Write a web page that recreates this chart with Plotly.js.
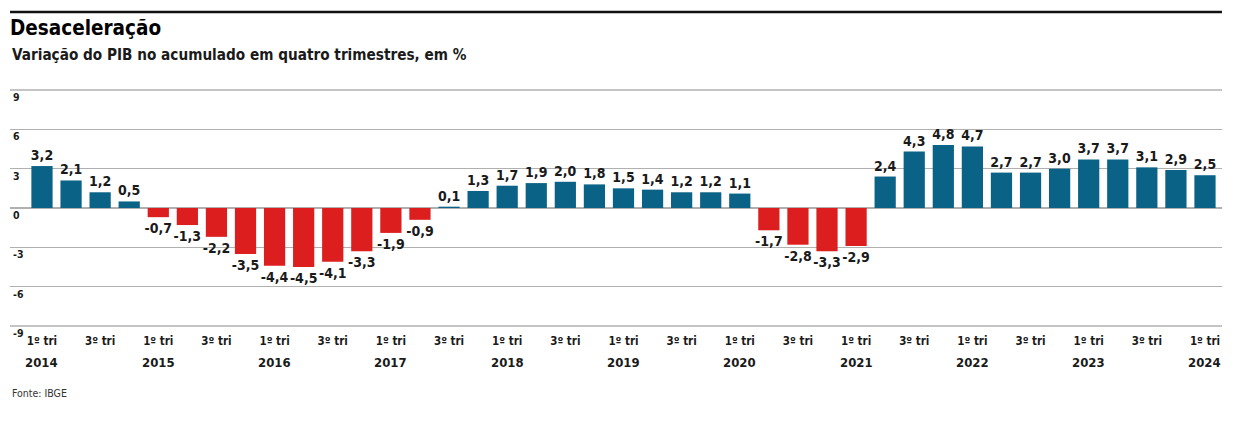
<!DOCTYPE html>
<html>
<head>
<meta charset="utf-8">
<script src="https://cdn.plot.ly/plotly-3.0.1.min.js"></script>
<style>html,body{margin:0;padding:0;background:#fff;}#chart{width:1234px;height:427px;}</style>
</head>
<body>
<div id="chart"></div>
<script>
const quarters = [
  "2014 T1","2014 T2","2014 T3","2014 T4",
  "2015 T1","2015 T2","2015 T3","2015 T4",
  "2016 T1","2016 T2","2016 T3","2016 T4",
  "2017 T1","2017 T2","2017 T3","2017 T4",
  "2018 T1","2018 T2","2018 T3","2018 T4",
  "2019 T1","2019 T2","2019 T3","2019 T4",
  "2020 T1","2020 T2","2020 T3","2020 T4",
  "2021 T1","2021 T2","2021 T3","2021 T4",
  "2022 T1","2022 T2","2022 T3","2022 T4",
  "2023 T1","2023 T2","2023 T3","2023 T4",
  "2024 T1"
];
const pibVariation = [
  3.2, 2.1, 1.2, 0.5,
  -0.7, -1.3, -2.2, -3.5,
  -4.4, -4.5, -4.1, -3.3,
  -1.9, -0.9, 0.1, 1.3,
  1.7, 1.9, 2.0, 1.8,
  1.5, 1.4, 1.2, 1.2,
  1.1, -1.7, -2.8, -3.3,
  -2.9, 2.4, 4.3, 4.8,
  4.7, 2.7, 2.7, 3.0,
  3.7, 3.7, 3.1, 2.9,
  2.5
];
const tickQuarters = quarters.filter((q, i) => i % 2 === 0);
const tickLabels = tickQuarters.map(q => q.endsWith("T1") ? "1º tri" : "3º tri");
const yearQuarters = quarters.filter(q => q.endsWith("T1"));
const yearLabels = yearQuarters.map(q => q.slice(0, 4));
const yTicks = [-9, -6, -3, 0, 3, 6, 9];

const BLUE = "#0a6387";
const RED = "#dc1e1f";
const FONT = "DejaVu Sans Condensed, DejaVu Sans, sans-serif";

const trace = {
  type: "bar",
  x: quarters,
  y: pibVariation,
  marker: {color: pibVariation.map(v => v >= 0 ? BLUE : RED)},
  text: pibVariation.map(v => v.toFixed(1).replace(".", ",")),
  textposition: "outside",
  constraintext: "none",
  cliponaxis: false,
  textfont: {family: FONT, size: 14, color: "#1a1a1a", weight: 700},
  hoverinfo: "skip"
};

const annotations = yearQuarters.map((q, i) => ({
  x: q, xref: "x", y: -0.155, yref: "paper",
  text: "<b>" + yearLabels[i] + "</b>", showarrow: false,
  xanchor: "center", yanchor: "middle",
  font: {family: FONT, size: 13, color: "#1a1a1a"}
}));
annotations.push({
  x: 0, xref: "paper", xanchor: "left",
  y: (326 - 55) / 236, yref: "paper", yanchor: "middle",
  text: "<b>Variação do PIB no acumulado em quatro trimestres, em %</b>",
  showarrow: false, font: {family: FONT, size: 15.2, color: "#1a1a1a"}
});
annotations.push({
  x: 0, xref: "paper", xanchor: "left",
  y: (326 - 393) / 236, yref: "paper", yanchor: "middle",
  text: "Fonte: IBGE", showarrow: false,
  font: {family: FONT, size: 10.5, color: "#333"}
});

const layout = {
  width: 1234, height: 427,
  margin: {l: 10, r: 12, t: 90, b: 101},
  paper_bgcolor: "#fff", plot_bgcolor: "#fff",
  showlegend: false,
  bargap: 0.27,
  title: {
    text: "<b>Desaceleração</b>",
    xref: "container", x: 10 / 1234, xanchor: "left",
    yref: "container", y: 1 - 21 / 427, yanchor: "top",
    font: {family: FONT, size: 20.5, color: "#000"}
  },
  xaxis: {
    type: "category",
    range: [-1.1, 40.585],
    tickvals: tickQuarters,
    ticktext: tickLabels.map(t => "<b>" + t + "</b>"),
    ticks: "", showgrid: false, zeroline: false, showline: false,
    tickfont: {family: FONT, size: 11.5, color: "#1a1a1a"},
    ticklabelstandoff: 6
  },
  yaxis: {
    range: [-9, 9],
    tickvals: yTicks,
    ticktext: yTicks.map(v => "<b>" + v + "</b>"),
    ticklabelposition: "inside bottom",
    ticklabeloverflow: "allow",
    ticks: "", showgrid: true, gridcolor: "#b0b0b0", gridwidth: 1.5,
    zeroline: true, zerolinecolor: "#b0b0b0", zerolinewidth: 1.5,
    showline: false,
    tickfont: {family: FONT, size: 10.5, color: "#1a1a1a"}
  },
  shapes: [
    {type: "line", xref: "paper", yref: "paper", x0: 0, x1: 1,
     y0: (326 - 12) / 236, y1: (326 - 12) / 236,
     line: {color: "#111", width: 2.5}},
    {type: "line", xref: "paper", yref: "paper", x0: 0, x1: 1,
     y0: 1, y1: 1, line: {color: "#b0b0b0", width: 1.5}, layer: "below"},
    {type: "line", xref: "paper", yref: "paper", x0: 0, x1: 1,
     y0: 0, y1: 0, line: {color: "#b0b0b0", width: 1.5}, layer: "below"}
  ],
  annotations: annotations
};

Plotly.newPlot("chart", [trace], layout, {staticPlot: true, displayModeBar: false});
</script>
</body>
</html>
